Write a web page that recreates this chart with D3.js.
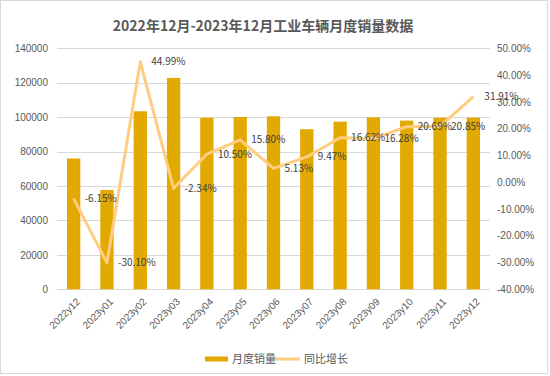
<!DOCTYPE html>
<html>
<head>
<meta charset="utf-8">
<script src="https://cdn.jsdelivr.net/npm/d3@7"></script>
<style>
  body { margin: 0; background: #fff; }
  svg { display: block; font-family: "Noto Sans CJK SC", "Noto Sans", sans-serif; }
</style>
</head>
<body>
<div class="box"></div>
<script>
// data
const months = ['2022y12', '2023y01', '2023y02', '2023y03', '2023y04', '2023y05', '2023y06',
                '2023y07', '2023y08', '2023y09', '2023y10', '2023y11', '2023y12'];
const sales = [76000, 57700, 103400, 122800, 99700, 100100, 100500, 93000, 97400, 99900, 98000, 99700, 99700];
const yoy = [-6.15, -30.10, 44.99, -2.34, 10.50, 15.80, 5.13, 9.47, 16.62, 16.28, 20.69, 20.85, 31.91];
const leftTicks = [0, 20000, 40000, 60000, 80000, 100000, 120000, 140000];
const rightTicks = [-40, -30, -20, -10, 0, 10, 20, 30, 40, 50];

const W = 550, H = 376;
const svg = d3.select('.box')
              .append('svg')
              .attr('width', W)
              .attr('height', H);

// border
svg.append('rect')
   .attr('x', 0.5).attr('y', 0.5)
   .attr('width', W - 3).attr('height', H - 3)
   .attr('fill', '#fff')
   .attr('stroke', '#d9d9d9');

// Titre
svg.append('text')
   .attr('x', 263).attr('y', 31)
   .attr('text-anchor', 'middle')
   .attr('font-size', 14).attr('font-weight', 'bold')
   .attr('fill', '#595959')
   .text('2022年12月-2023年12月工业车辆月度销量数据');

const plot = {left: 57, right: 490, top: 48.3, bottom: 289.3};

const x = d3.scaleBand()
            .domain(months)
            .range([plot.left, plot.right])
            .paddingInner(0.6)
            .paddingOuter(0.3);

const y = d3.scaleLinear().domain([0, 140000]).range([plot.bottom, plot.top]);
const y2 = d3.scaleLinear().domain([-40, 50]).range([plot.bottom, plot.top]);

// grid
svg.append('g')
   .selectAll('line')
   .data(leftTicks)
   .join('line')
   .attr('x1', plot.left).attr('x2', plot.right)
   .attr('y1', d => Math.round(y(d)) + 0.5)
   .attr('y2', d => Math.round(y(d)) + 0.5)
   .attr('stroke', '#d9d9d9')
   .attr('stroke-width', 1);

// axes
const axeY = d3.axisLeft(y).tickValues(leftTicks).tickSize(0).tickPadding(9).tickFormat(d => d);
const gY = svg.append('g').attr('transform', `translate(${plot.left}, 0)`).call(axeY);
gY.select('.domain').remove();
gY.selectAll('text').attr('fill', '#595959').style('font-size', '10px');

const axeY2 = d3.axisRight(y2).tickValues(rightTicks).tickSize(0).tickPadding(7)
                .tickFormat(d => d.toFixed(2) + '%');
const gY2 = svg.append('g').attr('transform', `translate(${plot.right}, 0)`).call(axeY2);
gY2.select('.domain').remove();
gY2.selectAll('text').attr('fill', '#595959').style('font-size', '10px');

const axeX = d3.axisBottom(x).tickSize(0).tickPadding(0);
const gX = svg.append('g').attr('transform', `translate(0, ${plot.bottom})`).call(axeX);
gX.select('.domain').remove();
gX.selectAll('text')
  .attr('fill', '#595959')
  .style('font-size', '10px')
  .attr('text-anchor', 'end')
  .attr('dy', 0)
  .attr('transform', 'translate(7, 13) rotate(-45)');

// bars
svg.append('g')
   .selectAll('rect')
   .data(sales)
   .join('rect')
   .attr('x', (d, i) => x(months[i]))
   .attr('y', d => y(d))
   .attr('width', x.bandwidth())
   .attr('height', d => plot.bottom - y(d))
   .attr('fill', '#E2AA00');

// line
const cx = i => x(months[i]) + x.bandwidth() / 2;
const line = d3.line().x((d, i) => cx(i)).y(d => y2(d));
svg.append('path')
   .datum(yoy)
   .attr('d', line)
   .attr('fill', 'none')
   .attr('stroke', '#FFCC80')
   .attr('stroke-width', 3)
   .attr('stroke-linejoin', 'round');

// labels
svg.append('g')
   .selectAll('text')
   .data(yoy)
   .join('text')
   .attr('x', (d, i) => cx(i) + 11)
   .attr('y', d => y2(d))
   .attr('dy', '0.35em')
   .attr('font-size', 10)
   .attr('fill', '#404040')
   .text(d => d.toFixed(2) + '%');

// legende
const leg = svg.append('g');
leg.append('rect')
   .attr('x', 205).attr('y', 356.5).attr('width', 23).attr('height', 5)
   .attr('fill', '#E2AA00');
leg.append('text')
   .attr('x', 232).attr('y', 359).attr('dy', '0.35em')
   .attr('font-size', 11).attr('fill', '#595959')
   .text('月度销量');
leg.append('line')
   .attr('x1', 275).attr('x2', 300).attr('y1', 359).attr('y2', 359)
   .attr('stroke', '#FFCC80').attr('stroke-width', 3);
leg.append('text')
   .attr('x', 304).attr('y', 359).attr('dy', '0.35em')
   .attr('font-size', 11).attr('fill', '#595959')
   .text('同比增长');
</script>
</body>
</html>
